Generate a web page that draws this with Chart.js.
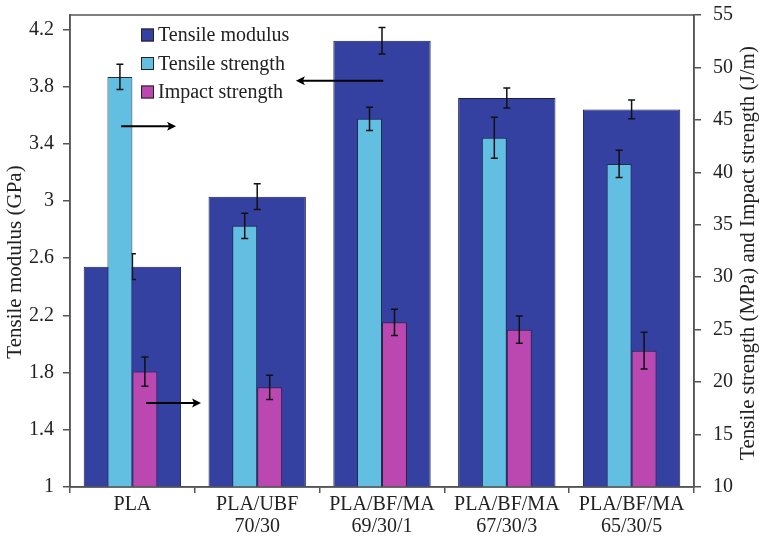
<!DOCTYPE html>
<html>
<head>
<meta charset="utf-8">
<script src="https://cdn.jsdelivr.net/npm/chart.js@4.4.1/dist/chart.umd.min.js"></script>
<style>
  html, body { margin: 0; padding: 0; background: #fff; }
  #wrap { width: 764px; height: 539px; }
</style>
</head>
<body>
<div id="wrap"><canvas id="c" width="764" height="539"></canvas></div>
<script>
// Blend compositions
const categories = ['PLA', ['PLA/UBF', '70/30'], ['PLA/BF/MA', '69/30/1'], ['PLA/BF/MA', '67/30/3'], ['PLA/BF/MA', '65/30/5']];

// Tensile modulus (GPa), left axis
const tensileModulus = [2.54, 3.03, 4.12, 3.72, 3.64];
const tensileModulusErr = [0.09, 0.09, 0.093, 0.07, 0.065];

// Tensile strength (MPa), right axis
const tensileStrength = [49.1, 34.9, 45.1, 43.3, 40.8];
const tensileStrengthErr = [1.2, 1.2, 1.1, 1.95, 1.3];

// Impact strength (J/m), right axis
const impactStrength = [21.0, 19.5, 25.7, 25.0, 23.0];
const impactStrengthErr = [1.4, 1.15, 1.25, 1.3, 1.75];

// Axis tick labels
const leftTicks = [1, 1.4, 1.8, 2.2, 2.6, 3, 3.4, 3.8, 4.2];
const rightTicks = [10, 15, 20, 25, 30, 35, 40, 45, 50, 55];

// Axis titles
const leftTitle = 'Tensile modulus (GPa)';
const rightTitle = 'Tensile strength (MPa) and Impact strength (J/m)';

const SERIF = "'Liberation Serif', 'Times New Roman', serif";
const INK = '#222';
const AXIS = '#555';

// Arrows telling which axis a series belongs to (category index + fraction of a category width)
const axisArrows = [
  { cat: 0, from: -0.09, to: 0.35, axis: 'y1', value: 44.4 },
  { cat: 0, from: 0.11, to: 0.55, axis: 'y1', value: 18.0 },
  { cat: 2, from: 0.01, to: -0.69, axis: 'y', value: 3.84 }
];

const errorBars = {
  id: 'errorBars',
  afterDatasetDraw(chart, args) {
    const ds = chart.data.datasets[args.index];
    if (!ds.errors) return;
    const ctx = chart.ctx;
    const yScale = chart.scales[ds.yAxisID];
    ctx.save();
    ctx.strokeStyle = '#111';
    ctx.lineWidth = 1.5;
    args.meta.data.forEach((bar, i) => {
      const v = ds.data[i], e = ds.errors[i];
      const x = bar.x;
      const yTop = yScale.getPixelForValue(v + e);
      const yBot = yScale.getPixelForValue(v - e);
      ctx.beginPath();
      ctx.moveTo(x, yTop); ctx.lineTo(x, yBot);
      ctx.moveTo(x - 3.5, yTop); ctx.lineTo(x + 3.5, yTop);
      ctx.moveTo(x - 3.5, yBot); ctx.lineTo(x + 3.5, yBot);
      ctx.stroke();
    });
    ctx.restore();
  }
};

const frameAndNotes = {
  id: 'frameAndNotes',
  afterDatasetsDraw(chart) {
    const ctx = chart.ctx;
    const a = chart.chartArea;
    const xs = chart.scales.x;
    const step = xs.getPixelForValue(1) - xs.getPixelForValue(0);

    // plot frame
    ctx.save();
    ctx.strokeStyle = AXIS;
    ctx.lineWidth = 1.5;
    ctx.strokeRect(a.left, a.top, a.right - a.left, a.bottom - a.top);

    // arrows
    ctx.strokeStyle = '#000';
    ctx.fillStyle = '#000';
    ctx.lineWidth = 2;
    axisArrows.forEach(ar => {
      const c = xs.getPixelForValue(ar.cat);
      const x0 = c + ar.from * step, x1 = c + ar.to * step;
      const y = chart.scales[ar.axis].getPixelForValue(ar.value);
      const dir = Math.sign(x1 - x0);
      ctx.beginPath();
      ctx.moveTo(x0, y); ctx.lineTo(x1 - dir * 6, y);
      ctx.stroke();
      ctx.beginPath();
      ctx.moveTo(x1, y);
      ctx.lineTo(x1 - dir * 9, y - 4.5);
      ctx.lineTo(x1 - dir * 7, y);
      ctx.lineTo(x1 - dir * 9, y + 4.5);
      ctx.closePath();
      ctx.fill();
    });

    // legend
    const lx = a.left + 71, ly = a.top + 20, gap = 28.5, box = 13;
    ctx.font = '20px ' + SERIF;
    ctx.textBaseline = 'middle';
    ctx.textAlign = 'left';
    chart.data.datasets.forEach((ds, i) => {
      const y = ly + i * gap;
      ctx.fillStyle = ds.backgroundColor;
      ctx.fillRect(lx, y - box / 2, box, box);
      ctx.strokeStyle = '#222';
      ctx.lineWidth = 1;
      ctx.strokeRect(lx + 0.5, y - box / 2 + 0.5, box - 1, box - 1);
      ctx.fillStyle = INK;
      ctx.fillText(ds.label, lx + box + 4, y + 1);
    });

    // axis titles, both reading bottom-to-top
    ctx.font = '21px ' + SERIF;
    ctx.textAlign = 'center';
    ctx.textBaseline = 'middle';
    ctx.fillStyle = INK;
    const midY = (a.top + a.bottom) / 2;
    ctx.save();
    ctx.translate(15, midY + 11);
    ctx.rotate(-Math.PI / 2);
    ctx.fillText(leftTitle, 0, 0);
    ctx.restore();
    ctx.save();
    ctx.translate(748, midY + 2);
    ctx.rotate(-Math.PI / 2);
    ctx.fillText(rightTitle, 0, 0);
    ctx.restore();
    ctx.restore();
  }
};

new Chart(document.getElementById('c'), {
  type: 'bar',
  data: {
    labels: categories,
    datasets: [
      {
        label: 'Tensile modulus',
        data: tensileModulus,
        errors: tensileModulusErr,
        yAxisID: 'y',
        backgroundColor: '#3541a1',
        borderColor: '#1c1f48',
        borderWidth: 1,
        grouped: false,
        categoryPercentage: 1,
        barPercentage: 0.78,
        order: 1
      },
      {
        label: 'Tensile strength',
        data: tensileStrength,
        errors: tensileStrengthErr,
        yAxisID: 'y1',
        backgroundColor: '#62bfe2',
        borderColor: '#1c2f48',
        borderWidth: 1,
        categoryPercentage: 0.4,
        barPercentage: 1,
        order: 0
      },
      {
        label: 'Impact strength',
        data: impactStrength,
        errors: impactStrengthErr,
        yAxisID: 'y1',
        backgroundColor: '#bb47b1',
        borderColor: '#3a1c40',
        borderWidth: 1,
        categoryPercentage: 0.4,
        barPercentage: 1,
        order: 0
      }
    ]
  },
  options: {
    responsive: false,
    devicePixelRatio: 1,
    animation: false,
    layout: { padding: { left: 20, right: 19, top: 1, bottom: 0 } },
    plugins: { legend: { display: false }, tooltip: { enabled: false } },
    scales: {
      x: {
        grid: { offset: true, drawOnChartArea: false, tickLength: 6, color: AXIS, lineWidth: 1.5 },
        border: { color: AXIS, width: 1.5 },
        ticks: { font: { family: SERIF, size: 20, lineHeight: 1.1 }, color: INK, padding: 1, maxRotation: 0, autoSkip: false }
      },
      y: {
        position: 'left',
        min: 1,
        max: 4.3,
        afterBuildTicks: s => { s.ticks = leftTicks.map(v => ({ value: v })); },
        grid: { drawOnChartArea: false, tickLength: 7, color: AXIS, lineWidth: 1.5 },
        border: { color: AXIS, width: 1.5 },
        ticks: { font: { family: SERIF, size: 20, lineHeight: 0.6 }, color: INK, padding: 9, callback: v => String(v) }
      },
      y1: {
        position: 'right',
        min: 10,
        max: 55,
        afterBuildTicks: s => { s.ticks = rightTicks.map(v => ({ value: v })); },
        grid: { drawOnChartArea: false, tickLength: 7, color: AXIS, lineWidth: 1.5 },
        border: { color: AXIS, width: 1.5 },
        ticks: { font: { family: SERIF, size: 20, lineHeight: 0.3 }, color: INK, padding: 12, callback: v => String(v) }
      }
    }
  },
  plugins: [errorBars, frameAndNotes]
});
</script>
</body>
</html>
